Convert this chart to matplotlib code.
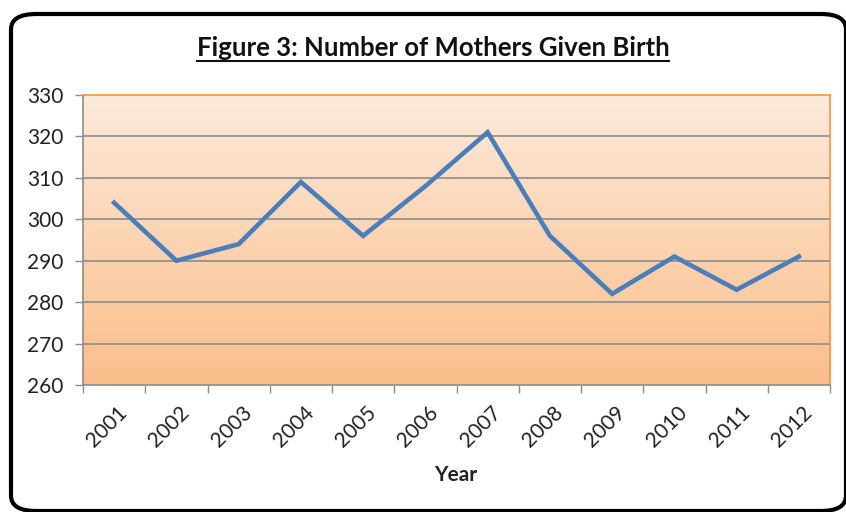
import numpy as np
import matplotlib
matplotlib.use("Agg")
import matplotlib.pyplot as plt
from matplotlib.patches import FancyBboxPatch
from matplotlib.colors import LinearSegmentedColormap
from matplotlib.lines import Line2D
import matplotlib.transforms as mtransforms

years = ['2001', '2002', '2003', '2004', '2005', '2006',
         '2007', '2008', '2009', '2010', '2011', '2012']
mothers = [304, 290, 294, 309, 296, 308, 321, 296, 282, 291, 283, 291]
y_ticks = [260, 270, 280, 290, 300, 310, 320, 330]

W, H = 846, 512
fig = plt.figure(figsize=(W / 100, H / 100), dpi=100)
fig.patch.set_facecolor('white')

# plot area in pixel coords: left 83, right 830, top 95, bottom 385
ax = fig.add_axes([83 / W, 1 - 385 / H, (830 - 83) / W, (385 - 95) / H])

n = len(years)
x = np.arange(n)
ax.set_xlim(-0.5, n - 0.5)
ax.set_ylim(260, 330)

# gradient background
cmap = LinearSegmentedColormap.from_list('peach', ['#FBBE8A', '#FDEADB'])
grad = np.linspace(0, 1, 256).reshape(-1, 1)
ax.imshow(grad, cmap=cmap, origin='lower', aspect='auto',
          extent=(-0.5, n - 0.5, 260, 330), zorder=0)

for yv in y_ticks[1:-1]:
    ax.axhline(yv, color='#8C8C8C', lw=1.2, zorder=1)

ax.plot(x, mothers, color='#4A7EBB', lw=3.3, solid_joinstyle='miter', zorder=3)

ax.set_yticks(y_ticks)
ax.set_yticklabels([str(v) for v in y_ticks], family='Lato', fontsize=15, color='#222222')
ax.set_xticks(np.arange(-0.5, n, 1.0))
ax.set_xticklabels([])
ax.tick_params(axis='y', length=6, color='#8C8C8C', width=1, pad=8)
ax.tick_params(axis='x', length=6, color='#8C8C8C', width=1)

for side in ['left', 'bottom']:
    ax.spines[side].set_color('#8C8C8C')
    ax.spines[side].set_linewidth(1.2)
for side in ['top', 'right']:
    ax.spines[side].set_color('#F79646')
    ax.spines[side].set_linewidth(1.2)

# rotated year labels
offset = mtransforms.ScaledTranslation(3 / 100, -17 / 100, fig.dpi_scale_trans)
for xi, lab in zip(x, years):
    ax.text(xi, 0, lab, transform=ax.get_xaxis_transform() + offset,
            rotation=45, ha='right', va='top', rotation_mode='anchor',
            family='Lato', fontsize=15, color='#222222')

fig.text(456 / W, 1 - 475 / H, 'Year', ha='center', va='center',
         family='Lato', fontsize=15, fontweight='bold', color='#222222')

# title with underline
title = fig.text(433 / W, 1 - 48 / H, 'Figure 3: Number of Mothers Given Birth',
                 ha='center', va='center', family='Lato', fontsize=18.5,
                 fontweight='bold', color='#111111')
fig.canvas.draw()
bb = title.get_window_extent(fig.canvas.get_renderer())
uy = (bb.y0 - 0.5) / H
fig.add_artist(Line2D([bb.x0 / W, bb.x1 / W], [uy, uy], color='#111111', lw=1.5))

# rounded outer border
border = FancyBboxPatch((11 / W, 1 - 511 / H), (846 - 11) / W, (511 - 14) / H,
                        boxstyle='round,pad=0,rounding_size=0.03',
                        transform=fig.transFigure, fill=False,
                        edgecolor='black', lw=3, clip_on=False)
fig.add_artist(border)

fig.savefig('out.png', dpi=100)
